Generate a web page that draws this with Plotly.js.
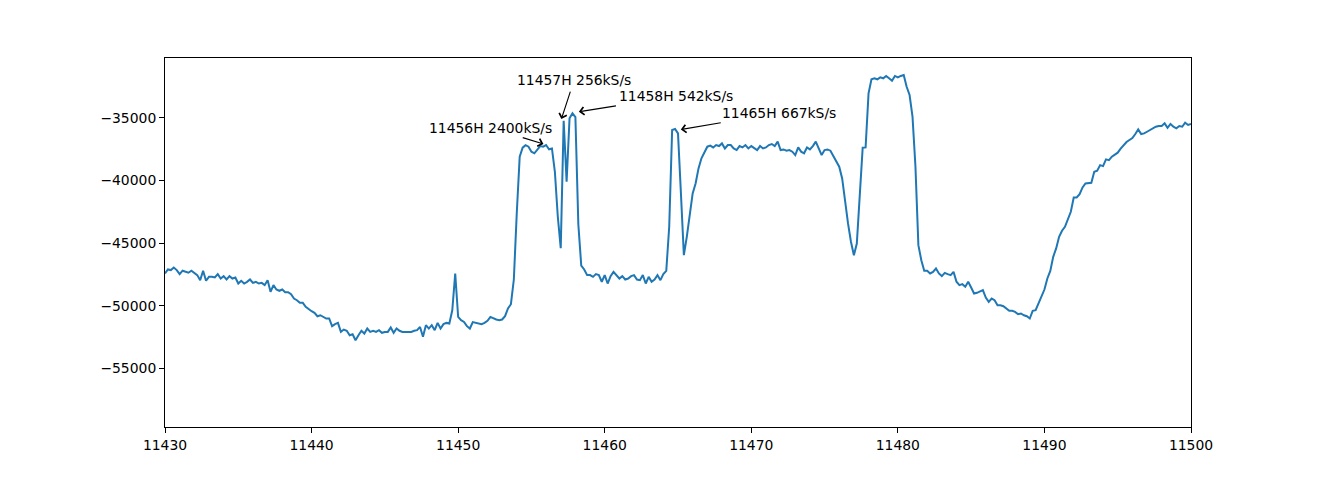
<!DOCTYPE html>
<html>
<head>
<meta charset="utf-8">
<script src="https://cdn.plot.ly/plotly-3.0.1.min.js"></script>
<style>html,body{margin:0;padding:0;background:#fff;}#chart{width:1323px;height:480px;}</style>
</head>
<body>
<div id="chart"></div>
<script>
// Sampling grid of the spectrum (MHz)
const freqStart = 11430;
const freqStep = 0.2;

// Measured level, one value per 0.2 MHz from 11430 to 11500
const level = [
-47420,-47100,-47150,-46950,-47150,-47470,-47200,-47310,-47360,-47200,
-47360,-47550,-47950,-47200,-48000,-47690,-47690,-47740,-47470,-47820,
-47630,-47900,-47630,-47820,-47740,-48220,-48000,-48220,-48090,-47900,
-48170,-48090,-48220,-48170,-48350,-47950,-48880,-48350,-48700,-48800,
-48700,-48910,-48910,-49070,-49420,-49550,-49760,-49760,-50080,-50290,
-50430,-50560,-50830,-50750,-50880,-51010,-51010,-51620,-51460,-51360,
-52070,-51890,-51990,-52340,-52260,-52740,-52340,-51990,-52210,-51810,
-52080,-51990,-52080,-51940,-52150,-52080,-52080,-51730,-52150,-51810,
-51990,-52080,-52080,-52080,-52080,-51990,-51940,-51680,-52470,-51540,
-51810,-51540,-51940,-51360,-51810,-51460,-51360,-51410,-50350,-47420,
-50880,-51140,-51280,-51620,-51810,-51300,-51360,-51360,-51460,-51360,
-51200,-50880,-51010,-51090,-51140,-51090,-50820,-50210,-49870,-47900,
-42600,-38110,-37390,-37190,-37310,-37710,-37840,-37580,-37260,-37310,
-37180,-37520,-37450,-39310,-42900,-45400,-35240,-40100,-35050,-34650,
-34950,-43500,-46800,-47100,-47550,-47550,-47690,-47470,-47550,-48080,
-47550,-48220,-47630,-47290,-47550,-47820,-47630,-47900,-47820,-47630,
-47550,-47900,-47950,-47550,-48220,-47690,-48080,-47900,-47550,-47950,
-47470,-47210,-43700,-35980,-35900,-36250,-41040,-45960,-44500,-42630,
-41040,-40240,-39040,-38240,-37710,-37310,-37230,-37370,-37180,-37260,
-37050,-37450,-37180,-37180,-37450,-37580,-37260,-37370,-37180,-37450,
-37260,-37450,-37580,-37260,-37450,-37370,-37180,-37100,-37260,-36910,
-37580,-37530,-37630,-37580,-37710,-37980,-37370,-37710,-37840,-37370,
-37530,-37260,-36910,-37450,-37980,-37580,-37530,-37630,-38060,-38510,
-38910,-39840,-41840,-43430,-44890,-45960,-45030,-41040,-37390,-37365,
-33060,-31940,-31860,-31940,-31780,-31860,-31670,-31860,-32050,-31670,
-31780,-31670,-31590,-32530,-33190,-34920,-38900,-45160,-46360,-47210,
-47210,-47420,-47290,-47020,-47420,-47630,-47370,-47470,-47550,-47290,
-48080,-48350,-48270,-48480,-48080,-48540,-49020,-48960,-48880,-48750,
-49340,-49680,-49420,-49550,-49950,-49950,-50030,-50210,-50400,-50400,
-50480,-50670,-50610,-50750,-50830,-51010,-50400,-50350,-49810,-49150,
-48700,-47820,-47210,-46090,-45420,-44490,-44010,-43700,-43030,-42500,
-41360,-41360,-41090,-40560,-40240,-40190,-40190,-39310,-39230,-38780,
-38860,-38320,-38380,-38110,-37980,-37790,-37470,-37180,-36940,-36780,
-36620,-36300,-35930,-36300,-36250,-36120,-35980,-35850,-35720,-35660,
-35660,-35450,-35800,-35500,-35720,-35850,-35660,-35720,-35400,-35580,
-35500
];

// Annotations: labels, pointed points, and text positions
const noteText = ['11456H 2400kS/s', '11457H 256kS/s', '11458H 542kS/s', '11465H 667kS/s'];
const noteX = [11455.95, 11457.0, 11458.1, 11465.06];
const noteY = [-37150, -35260, -34550, -35970];
const noteTextX = [11452.2, 11457.91, 11464.89, 11471.91];
const noteTextY = [-35782, -32016, -33292, -34625];

// Axis ticks
const xTickVals = [11430, 11440, 11450, 11460, 11470, 11480, 11490, 11500];
const xTickText = ['11430', '11440', '11450', '11460', '11470', '11480', '11490', '11500'];
const yTickVals = [-55000, -50000, -45000, -40000, -35000];
const yTickText = ['\u221255000', '\u221250000', '\u221245000', '\u221240000', '\u221235000'];

const FONT = {family: 'DejaVu Sans', size: 13.9, color: '#000'};

const trace = {
  type: 'scatter',
  mode: 'lines',
  x0: freqStart,
  dx: freqStep,
  y: level,
  line: {color: '#1f77b4', width: 2},
  hoverinfo: 'skip'
};

const annotations = noteText.map((t, i) => ({
  text: t,
  x: noteX[i], y: noteY[i], xref: 'x', yref: 'y',
  ax: noteTextX[i], ay: noteTextY[i], axref: 'x', ayref: 'y',
  showarrow: true,
  arrowhead: 4, arrowsize: 1.4, arrowwidth: 1.1, arrowcolor: '#000',
  standoff: 2, startstandoff: 2,
  font: FONT,
  borderpad: 1
}));

const axisCommon = {
  showline: true, mirror: true, linecolor: '#000', linewidth: 1,
  ticks: 'outside', ticklen: 5, tickwidth: 1, tickcolor: '#000',
  showgrid: false, zeroline: false,
  tickfont: FONT,
  tickmode: 'array'
};

const layout = {
  width: 1323, height: 480,
  margin: {l: 165, r: 132, t: 58, b: 53, pad: 0},
  paper_bgcolor: '#fff', plot_bgcolor: '#fff',
  showlegend: false,
  font: FONT,
  xaxis: Object.assign({}, axisCommon, {
    range: [11430, 11500], tickvals: xTickVals, ticktext: xTickText
  }),
  yaxis: Object.assign({}, axisCommon, {
    range: [-59660, -30240], tickvals: yTickVals, ticktext: yTickText
  }),
  annotations: annotations
};

Plotly.newPlot('chart', [trace], layout, {displayModeBar: false, staticPlot: true});
</script>
</body>
</html>
